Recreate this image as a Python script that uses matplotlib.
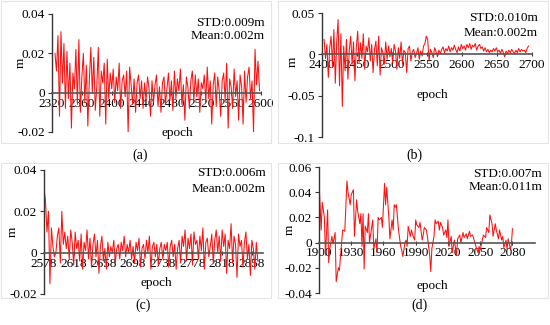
import numpy as np
import matplotlib
matplotlib.use("Agg")
import matplotlib.pyplot as plt
from matplotlib.patches import Rectangle

plt.rcParams['font.family'] = ['Liberation Serif', 'DejaVu Serif']

# residuals in mm (plotted in m)
a_start, a_step = 2324, 2
a_mm = [20, 11, 29, -12, 31, 5, 25, -8, 21, -3, 15, -18, 10, 2, 22, -6, 27, -10, 8,
        20, -5, 14, -17, 6, 23, 0, 18, -9, 3, 23, -12, 11, 5, 15, -16, 17, -3, 10, 2,
        12, -5, 8, 1, 15, -8, 6, 9, -2, 11, -20, 13, 4, -6, 7, -10, 5, 9, -3, 6,
        -8, 5, -4, 8, 2, -12, 6, -5, 4, 9, -7, 3, -10, 5, 8, -6, 2, 10, -4, 6,
        -9, 11, -3, 7, 1, 12, -6, 4, -14, 8, 3, -8, 6, 11, -4, 9, -2, 7, -10, 5,
        2, 9, -5, 13, -3, 6, -16, 4, 10, -7, 8, 1, -12, 6, 10, -4, 15, -18, 7, 3,
        -8, 12, -2, 6, -14, 9, 3, -16, 11, -5, 8, 13, -3, 6, -20, 22, 4, 16, 1]

b_start, b_step = 2403, 2
b_mm = [18, -5, 12, -28, 8, 22, -15, 30, -35, 15, 42, -38, 25, -63, 10, -20, 18, -30, 5, 22, -12, 15, -32, 8,
        28, -10, 14, -5, 25, -18, 10, 3, 20, -8, 12, -22, 6, 16, -14, 22, -25, 8, 2, -12, 15, -6, 10, -3, 7,
        -10, 12, 4, -18, 8, -5, 15, -12, 5, 2, -22, 7, 10, -8, 3, 6, -4, 1, 8, -6, 4, -2, 10, 13, 22,
        18, -8, 6, 2, -4, 8, 3, -3, 5, 1, 6, 9, 2, 7, 4, 10, 3, 8, 5, 11, 6, 2, 9, 4, 12,
        7, 10, 5, 12, 8, 13, 6, 11, 9, 13, 5, 10, 12, 7, 9, 4, 8, 3, 6, 2, 5, 3, 7, 4, 8,
        3, 5, 1, 6, 2, -3, 4, 1, 5, 2, 6, 3, 1, 5, 2, 7, 3, 6, 4, 5, 2, 7, 10]

c_start, c_step = 2578, 2
c_mm = [31, 25, 10, 20, -15, 12, 3, -2, 0, 8, 12, -5, 20, 4, 10, 2, 8, -3, 11, 5,
        -6, 10, 2, 6, -4, 9, -8, 5, 1, 11, -3, 7, -7, 4, 9, -2, 6, -10, 3, 8,
        -4, 2, -8, 5, -2, 3, 0, 6, -5, 2, 4, -3, 5, 1, 8, -2, 4, 0, 6, -3,
        3, -5, 5, 1, 7, -7, 2, 4, -3, 6, 0, 8, -8, 3, 5, -2, 4, -6, 2, 5,
        -3, 4, 1, 5, -7, 3, 6, -2, 4, -8, 2, 6, -5, 8, 3, 11, -4, 7, 2, 9,
        -6, 10, 4, 6, -3, 8, 1, 12, -8, 5, 7, -2, 3, 9, -5, 6, 11, 0, 8, -4,
        11, 3, 9, -10, 6, 2, 14, -5, 8, 4, -12, 9, 3, 6, -7, 5, 10, -3, 4, -11, 6, 2, -8, 5, -4]

d_epoch = [1900, 1902, 1903, 1905, 1906, 1908, 1909, 1910, 1912, 1913, 1915, 1916, 1918, 1919,
           1921, 1922, 1924, 1926, 1927, 1929, 1930, 1932, 1933, 1935, 1936, 1938, 1939, 1940,
           1941, 1942, 1943, 1945, 1946, 1947, 1949, 1950, 1951, 1953, 1954, 1955, 1956, 1958,
           1959, 1961, 1962, 1963, 1965, 1966, 1968, 1969, 1970, 1971, 1972, 1974, 1976, 1977,
           1978, 1980, 1981, 1982, 1983, 1985, 1986, 1988, 1989, 1990, 1991, 1993, 1994, 1996,
           1997, 1998, 2000, 2001, 2003, 2004, 2005, 2007, 2008, 2009, 2011, 2012, 2013, 2015,
           2016, 2018, 2019, 2020, 2021, 2023, 2024, 2026, 2028, 2029, 2031, 2032, 2034, 2035,
           2037, 2038, 2040, 2041, 2043, 2045, 2046, 2048, 2049, 2050, 2052, 2053, 2055, 2056,
           2058, 2059, 2061, 2062, 2064, 2065, 2067, 2068, 2070, 2071, 2072, 2074, 2075, 2076,
           2078, 2079, 2080]
d_mm = [49, 10, 32, 20, -10, 26, -16, -5, 5, -1, 8, -31, -20, -22,
        0, 10, 9, 49, 40, 30, 38, 42, 5, 34, 25, 15, 23, -3,
        23, -21, 13, 8, 23, 0, 12, 18, -5, 3, -8, 20, 18, 20,
        12, 47, 30, 44, 20, 3, 18, 10, 30, 28, 30, 10, -3, -6,
        -11, 0, 2, -3, 13, 5, 10, 4, 2, 18, 14, 12, 16, 2,
        6, 12, 10, 4, -10, -23, -5, 5, 18, 15, 17, 10, 16, 12,
        6, 10, 4, 18, -3, 5, -8, 2, -10, 3, 6, 0, 8, 4,
        7, 3, 9, 5, 6, 0, -3, -8, -3, -6, 2, 6, 4, 12,
        8, 22, 15, 5, 15, 10, 3, 10, 2, 5, -4, 2, -5, 3,
        -5, -2, 11]

panels = [
    dict(x=a_start + a_step * np.arange(len(a_mm)), y=np.array(a_mm) / 1000,
         px=(52, 14, 261, 132), xlim=(2320, 2600), ylim=(-0.02, 0.04),
         xt=np.arange(2320, 2601, 40), yt=[-0.02, 0, 0.02, 0.04], yl=['-0.02', '0', '0.02', '0.04'],
         std='STD:0.009m', mean='Mean:0.002m', txt=(265, 23, 36), ep=(177, 133), ml=(21, 63),
         tag='(a)', tagpos=(140, 155), box=(1, 1, 271, 143)),
    dict(x=b_start + b_step * np.arange(len(b_mm)), y=np.array(b_mm) / 1000,
         px=(322, 13, 532, 137), xlim=(2400, 2700), ylim=(-0.1, 0.05),
         xt=np.arange(2400, 2701, 50), yt=[-0.1, -0.05, 0, 0.05], yl=['-0.1', '-0.05', '0', '0.05'],
         std='STD:0.010m', mean='Mean:0.002m', txt=(538, 18, 33), ep=(432, 95), ml=(293, 62),
         tag='(b)', tagpos=(414, 155), box=(278, 1, 548, 143)),
    dict(x=c_start + c_step * np.arange(len(c_mm)), y=np.array(c_mm) / 1000,
         px=(44, 170, 263, 294), xlim=(2578, 2873), ylim=(-0.02, 0.04),
         xt=np.arange(2578, 2859, 40), yt=[-0.02, 0, 0.02, 0.04], yl=['-0.02', '0', '0.02', '0.04'],
         std='STD:0.006m', mean='Mean:0.002m', txt=(266, 173, 189), ep=(156, 283), ml=(13, 232),
         tag='(c)', tagpos=(143, 305), box=(1, 163, 271, 298)),
    dict(x=np.array(d_epoch), y=np.array(d_mm) / 1000,
         px=(319, 167, 535, 293), xlim=(1900, 2101), ylim=(-0.04, 0.06),
         xt=np.arange(1900, 2081, 30), yt=[-0.04, -0.02, 0, 0.02, 0.04, 0.06],
         yl=['-0.04', '-0.02', '0', '0.02', '0.04', '0.06'],
         std='STD:0.007m', mean='Mean:0.011m', txt=(542, 174, 187), ep=(432, 286), ml=(290, 230),
         tag='(d)', tagpos=(420, 305), box=(278, 163, 548, 298)),
]

W, H = 550, 325
FS = 9.5
fig = plt.figure(figsize=(5.5, 3.25), dpi=100)
fig.patch.set_facecolor('white')

for p in panels:
    bx0, by0, bx1, by1 = p['box']
    fig.patches.append(Rectangle((bx0 / W, 1 - by1 / H), (bx1 - bx0) / W, (by1 - by0) / H,
                                 transform=fig.transFigure, fill=False, ec='#e4e4e4', lw=0.8))
    x0, y0, x1, y1 = p['px']
    ax = fig.add_axes([x0 / W, 1 - y1 / H, (x1 - x0) / W, (y1 - y0) / H])
    ax.plot(p['x'], p['y'], color='#ff1010', lw=0.75)
    ax.set_xlim(p['xlim'])
    ax.set_ylim(p['ylim'])
    ax.spines['top'].set_visible(False)
    ax.spines['right'].set_visible(False)
    ax.spines['bottom'].set_position(('data', 0))
    ax.spines['bottom'].set_color('#555555')
    ax.spines['bottom'].set_linewidth(1.2)
    ax.spines['left'].set_color('#333333')
    ax.spines['left'].set_linewidth(1.0)
    ax.set_xticks(p['xt'])
    ax.set_xticklabels([str(v) for v in p['xt']], fontsize=FS)
    ax.set_yticks(p['yt'])
    ax.set_yticklabels(p['yl'], fontsize=FS)
    ax.tick_params(axis='x', direction='inout', length=3, width=0.8, color='#333333', pad=2)
    ax.tick_params(axis='y', direction='out', length=3, width=0.8, color='#333333', pad=2)
    ax.patch.set_alpha(0)
    tx, ty1, ty2 = p['txt']
    fig.text(tx / W, 1 - ty1 / H, p['std'], ha='right', va='center', fontsize=FS)
    fig.text(tx / W, 1 - ty2 / H, p['mean'], ha='right', va='center', fontsize=FS)
    fig.text(p['ep'][0] / W, 1 - p['ep'][1] / H, 'epoch', ha='center', va='center', fontsize=FS)
    fig.text(p['ml'][0] / W, 1 - p['ml'][1] / H, 'm', ha='center', va='center', fontsize=FS, rotation=90)
    fig.text(p['tagpos'][0] / W, 1 - p['tagpos'][1] / H, p['tag'], ha='center', va='center', fontsize=10)

fig.savefig('out.png', dpi=100)
